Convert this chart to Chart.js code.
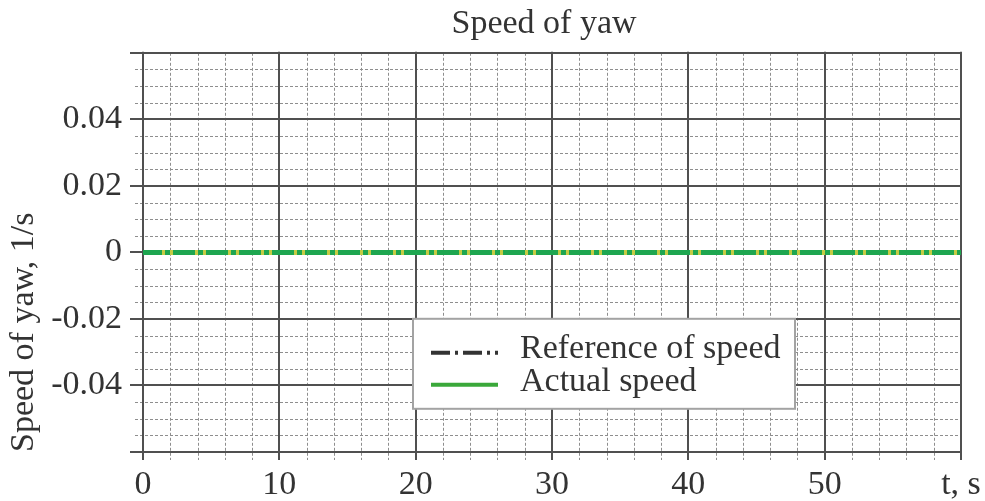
<!DOCTYPE html>
<html>
<head>
<meta charset="utf-8">
<script src="https://cdn.jsdelivr.net/npm/chart.js@4.4.1/dist/chart.umd.min.js"></script>
<style>
  html, body { margin: 0; padding: 0; background: #fff; }
  #wrap { width: 985px; height: 501px; }
</style>
</head>
<body>
<div id="wrap"><canvas id="c" width="985" height="501"></canvas></div>
<script>
// Time samples (s) and the two yaw-rate series (1/s)
const timeS = [0, 10, 20, 30, 40, 50, 60];
const referenceSpeed = [0, 0, 0, 0, 0, 0, 0];
const actualSpeed = [0, 0, 0, 0, 0, 0, 0];
const seriesNames = ['Reference of speed', 'Actual speed'];

// Labelled ticks
const xTickValues = [0, 10, 20, 30, 40, 50, 60];
const xTickLabels = ['0', '10', '20', '30', '40', '50', 't, s'];
const yTickValues = [-0.04, -0.02, 0, 0.02, 0.04];
const yTickLabels = ['-0.04', '-0.02', '0', '0.02', '0.04'];

const FONT = 'Liberation Serif';
const INK = '#333333';

function near(a, b) { return Math.abs(a - b) < 1e-9; }
function isMultiple(v, step) { const q = v / step; return Math.abs(q - Math.round(q)) < 1e-6; }

// Engineering-paper grid: dashed minor lines, solid major lines with outside ticks
const paperGrid = {
  id: 'paperGrid',
  afterLayout(chart) {
    // nudge the title slightly left of the plot centre
    const t = chart.titleBlock;
    if (t) { t.left -= 8; t.right -= 8; }
  },
  beforeDatasetsDraw(chart) {
    const { ctx, chartArea: a, scales: { x, y } } = chart;
    ctx.save();
    const xs = x.ticks.map(t => ({ v: t.value, p: x.getPixelForValue(t.value), major: isMultiple(t.value, 10) }));
    const ys = y.ticks.map(t => ({ v: t.value, p: y.getPixelForValue(t.value), major: isMultiple(t.value, 0.02) }));

    // minor
    ctx.strokeStyle = '#8e8e8e';
    ctx.lineWidth = 1;
    ctx.setLineDash([3, 2]);
    ctx.beginPath();
    xs.filter(t => !t.major).forEach(t => {
      const px = Math.round(t.p) + 0.5;
      ctx.moveTo(px, a.top); ctx.lineTo(px, a.bottom + 8);
    });
    ys.filter(t => !t.major).forEach(t => {
      const py = Math.round(t.p) + 0.5;
      ctx.moveTo(a.left - 8, py); ctx.lineTo(a.right, py);
    });
    ctx.stroke();

    // major
    ctx.setLineDash([]);
    ctx.strokeStyle = '#505050';
    ctx.lineWidth = 2;
    ctx.beginPath();
    xs.filter(t => t.major).forEach(t => {
      const px = Math.round(t.p);
      ctx.moveTo(px, a.top - 1); ctx.lineTo(px, a.bottom + 8);
    });
    ys.filter(t => t.major).forEach(t => {
      const py = Math.round(t.p);
      ctx.moveTo(a.left - 13, py); ctx.lineTo(a.right + 1, py);
    });
    ctx.stroke();
    ctx.restore();
  }
};

// Boxed legend inside the plot area
const boxLegend = {
  id: 'boxLegend',
  afterDatasetsDraw(chart) {
    const { ctx, chartArea: a } = chart;
    const left = a.left + 270, top = a.top + 266, w = 382, h = 90;
    ctx.save();
    ctx.fillStyle = '#ffffff';
    ctx.fillRect(left, top, w, h);
    ctx.strokeStyle = '#a3a3a3';
    ctx.lineWidth = 2;
    ctx.strokeRect(left, top, w, h);

    const rows = [
      { label: chart.data.datasets[0].label, color: '#333333', dash: [19, 5, 3, 5], y: top + 34, base: top + 39 },
      { label: chart.data.datasets[1].label, color: '#3aa83a', dash: [], y: top + 66, base: top + 72 }
    ];
    rows.forEach(r => {
      ctx.strokeStyle = r.color;
      ctx.lineWidth = 4;
      ctx.setLineDash(r.dash);
      ctx.beginPath();
      ctx.moveTo(left + 18, r.y);
      ctx.lineTo(left + 85, r.y);
      ctx.stroke();
      ctx.setLineDash([]);
      ctx.fillStyle = INK;
      ctx.font = `34px "${FONT}"`;
      ctx.textBaseline = 'alphabetic';
      ctx.textAlign = 'left';
      ctx.fillText(r.label, left + 107, r.base);
    });
    ctx.restore();
  }
};

new Chart(document.getElementById('c'), {
  type: 'line',
  data: {
    labels: timeS,
    datasets: [
      {
        label: seriesNames[0],
        data: timeS.map((t, i) => ({ x: t, y: referenceSpeed[i] })),
        borderColor: '#c6cc44',
        borderWidth: 5,
        pointRadius: 0,
        order: 1
      },
      {
        label: seriesNames[1],
        data: timeS.map((t, i) => ({ x: t, y: actualSpeed[i] })),
        borderColor: '#1ea650',
        borderWidth: 5,
        borderDash: [22, 3, 5, 3],
        borderDashOffset: 3,
        pointRadius: 0,
        order: 0
      }
    ]
  },
  options: {
    responsive: false,
    animation: false,
    devicePixelRatio: 1,
    layout: { padding: { left: 0, right: 24, top: 0, bottom: 0 } },
    plugins: {
      legend: { display: false },
      tooltip: { enabled: false },
      title: {
        display: true,
        text: 'Speed of yaw',
        fullSize: false,
        color: INK,
        font: { family: FONT, size: 34, weight: 'normal' },
        padding: { top: 4, bottom: 8 }
      }
    },
    scales: {
      x: {
        type: 'linear',
        min: 0, max: 60,
        grid: { display: false, drawTicks: false },
        border: { display: false },
        ticks: {
          stepSize: 2,
          autoSkip: false,
          maxRotation: 0,
          padding: 13,
          color: INK,
          font: { family: FONT, size: 34 },
          callback: v => {
            const i = xTickValues.findIndex(t => near(t, v));
            return i >= 0 ? xTickLabels[i] : '';
          }
        },
        afterFit: s => { s.height = 49; s.paddingLeft = 0; s.paddingRight = 0; }
      },
      y: {
        type: 'linear',
        min: -0.06, max: 0.06,
        grid: { display: false, drawTicks: false },
        border: { display: false },
        ticks: {
          stepSize: 0.005,
          autoSkip: false,
          padding: 21,
          color: INK,
          font: { family: FONT, size: 34 },
          callback: v => {
            const i = yTickValues.findIndex(t => near(t, v));
            return i >= 0 ? yTickLabels[i] : '';
          }
        },
        title: {
          display: true,
          text: 'Speed of yaw, 1/s',
          align: 'start',
          color: INK,
          font: { family: FONT, size: 34 },
          padding: { top: 4, bottom: 0 }
        },
        afterFit: s => { s.width = 143; s.paddingTop = 0; s.paddingBottom = 0; }
      }
    }
  },
  plugins: [paperGrid, boxLegend]
});
</script>
</body>
</html>
